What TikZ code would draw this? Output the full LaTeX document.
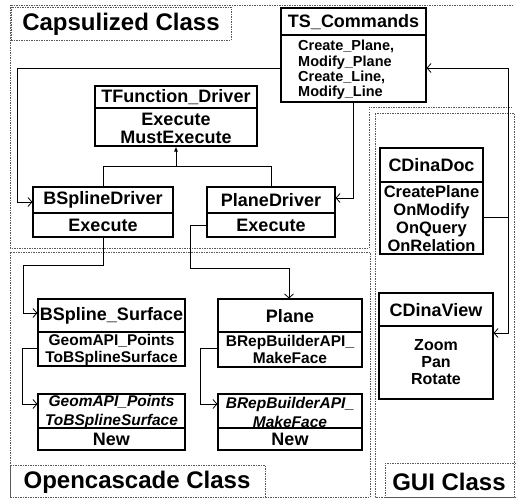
\documentclass[tikz,border=0pt]{standalone}
\usepackage{fontspec}
\setmainfont{Liberation Sans}
\usetikzlibrary{arrows.meta,fit}
\begin{document}
\begin{tikzpicture}[x=1pt,y=-1pt,
  box/.style={draw, line width=1.1pt, inner sep=0pt},
  sep/.style={line width=1.1pt},
  hd/.style={font=\fontsize{18}{20}\selectfont\bfseries, inner sep=0pt},
  hdi/.style={font=\fontsize{15.5}{19}\selectfont\bfseries\itshape, inner sep=0pt, align=center},
  bdA/.style={font=\fontsize{18}{18}\selectfont\bfseries, inner sep=0pt, align=center},
  bdB/.style={font=\fontsize{15.5}{17}\selectfont\bfseries, inner sep=0pt, align=center},
  bdC/.style={font=\fontsize{16.5}{18}\selectfont\bfseries, inner sep=0pt, align=center},
  bdD/.style={font=\fontsize{16}{17}\selectfont\bfseries, inner sep=0pt, align=center},
  bdT/.style={font=\fontsize{14.5}{15.3}\selectfont\bfseries, inner sep=0pt, align=left},
  region/.style={draw=black!65, line width=0.6pt, dash pattern=on 1.5pt off 1pt},
  titletext/.style={font=\fontsize{24}{26}\selectfont\bfseries, inner sep=0pt},
  conn/.style={line width=0.8pt},
  arr/.style={conn, -{Straight Barb[length=4pt,width=9pt,line width=0.8pt]}},
  inh/.style={conn, -{Latex[length=5pt,width=4pt]}},
]
\useasboundingbox (0,0) rectangle (516,501);

% regions
\draw[region] (513,5) -- (10,5) -- (10,248) -- (369,248) -- (369,107) -- (513,107);
\draw[region] (10,252) rectangle (370,497);
\draw[region] (375,113) rectangle (514,497);

% titles
\node[region, fit={(11,7) (231,40)}, inner sep=0pt] (capBox) {};
\node[titletext] (capT) at (121,24) {Capsulized Class};
\node[region, fit={(10,465) (265,497)}, inner sep=0pt] (occBox) {};
\node[titletext] (occT) at (137,482) {Opencascade Class};
\node[region, fit={(385,463) (516,497)}, inner sep=0pt] (guiBox) {};
\node[titletext] (guiT) at (449,482) {GUI Class};

% TS_Commands
\node[box, fit={(281,8) (426,102)}] (TS) {};
\draw[sep] (281,35) -- (426,35);
\node[hd] (TS-h) at (353.5,22) {TS\_Commands};
\node[bdT, anchor=north west] (TS-b) at (298,40) {Create\_Plane,\\Modify\_Plane\\Create\_Line,\\Modify\_Line};

% TFunction_Driver
\node[box, fit={(95,86) (257,146)}] (TF) {};
\draw[sep] (95,108) -- (257,108);
\node[hd] (TF-h) at (176,97) {TFunction\_Driver};
\node[bdA] (TF-b) at (176,128) {Execute\\MustExecute};

% BSplineDriver
\node[box, fit={(33,187) (173,237)}] (BSD) {};
\draw[sep] (33,213) -- (173,213);
\node[hd] (BSD-h) at (103,200) {BSplineDriver};
\node[bdA] (BSD-b) at (103,225.5) {Execute};

% PlaneDriver
\node[box, fit={(207,187) (335,237)}] (PD) {};
\draw[sep] (207,213) -- (335,213);
\node[hd] (PD-h) at (271,200) {PlaneDriver};
\node[bdA] (PD-b) at (271,225.5) {Execute};

% CDinaDoc
\node[box, fit={(380,148) (483,254)}] (CD) {};
\draw[sep] (380,182) -- (483,182);
\node[hd] (CD-h) at (431.5,165) {CDinaDoc};
\node[bdC] (CD-b) at (431.5,218.5) {CreatePlane\\OnModify\\OnQuery\\OnRelation};

% CDinaView
\node[box, fit={(379,293) (493,399)}] (CV) {};
\draw[sep] (379,326) -- (493,326);
\node[hd] (CV-h) at (436,310) {CDinaView};
\node[bdD] (CV-b) at (436,362) {Zoom\\Pan\\Rotate};

% BSpline_Surface
\node[box, fit={(38,299) (185,366)}] (BS) {};
\draw[sep] (38,332) -- (185,332);
\node[hd] (BS-h) at (111.5,316) {BSpline\_Surface};
\node[bdB] (BS-b) at (111.5,349.5) {GeomAPI\_Points\\ToBSplineSurface};

% Plane
\node[box, fit={(218,299) (362,367)}] (PL) {};
\draw[sep] (218,332) -- (362,332);
\node[hd] (PL-h) at (290,316) {Plane};
\node[bdB] (PL-b) at (290,349.5) {BRepBuilderAPI\_\\MakeFace};

% GeomAPI_PointsToBSplineSurface
\node[box, fit={(38,394) (185,450)}] (GA) {};
\draw[sep] (38,428) -- (185,428);
\node[hdi] (GA-h) at (111.5,412) {GeomAPI\_Points\\ToBSplineSurface};
\node[bdA] (GA-b) at (111.5,439.5) {New};

% BRepBuilderAPI_MakeFace
\node[box, fit={(218,394) (362,450)}] (BR) {};
\draw[sep] (218,428) -- (362,428);
\node[hdi] (BR-h) at (290,412) {BRepBuilderAPI\_\\MakeFace};
\node[bdA] (BR-b) at (290,439.5) {New};

% bend coordinates
\coordinate (L1) at (17,68);
\coordinate (L2) at (17,202);
\coordinate (P2) at (353,198);
\coordinate (R1) at (508,217);
\coordinate (R2) at (508,68);
\coordinate (R3) at (508,333);
\coordinate (I1) at (103,166);
\coordinate (I2) at (271,166);
\coordinate (J) at (176,166);
\coordinate (Q1) at (103,265);
\coordinate (Q2) at (23,265);
\coordinate (Q3) at (23,313);
\coordinate (S1) at (190,225);
\coordinate (S2) at (190,268);
\coordinate (S3) at (289,268);
\coordinate (T1) at (22,348);
\coordinate (T2) at (22,404);
\coordinate (U1) at (200,348);
\coordinate (U2) at (200,404);

% connectors
\draw[arr] (TS.west |- L1) -- (L1) -- (L2) -- (BSD.west |- L2);
\draw[arr] (TS.south -| P2) -- (P2) -- (PD.east |- P2);
\draw[arr] (CD.east |- R1) -- (R1) -- (R2) -- (TS.east |- R2);
\draw[arr] (R1) -- (R3) -- (CV.east |- R3);
\draw[conn] (BSD.north -| I1) -- (I1) -- (I2) -- (PD.north -| I2);
\draw[inh] (J) -- (TF.south);
\draw[arr] (BSD.south -| Q1) -- (Q1) -- (Q2) -- (Q3) -- (BS.west |- Q3);
\draw[arr] (PD.west |- S1) -- (S1) -- (S2) -- (S3) -- (PL.north -| S3);
\draw[arr] (BS.west |- T1) -- (T1) -- (T2) -- (GA.west |- T2);
\draw[arr] (PL.west |- U1) -- (U1) -- (U2) -- (BR.west |- U2);
\end{tikzpicture}
\end{document}
